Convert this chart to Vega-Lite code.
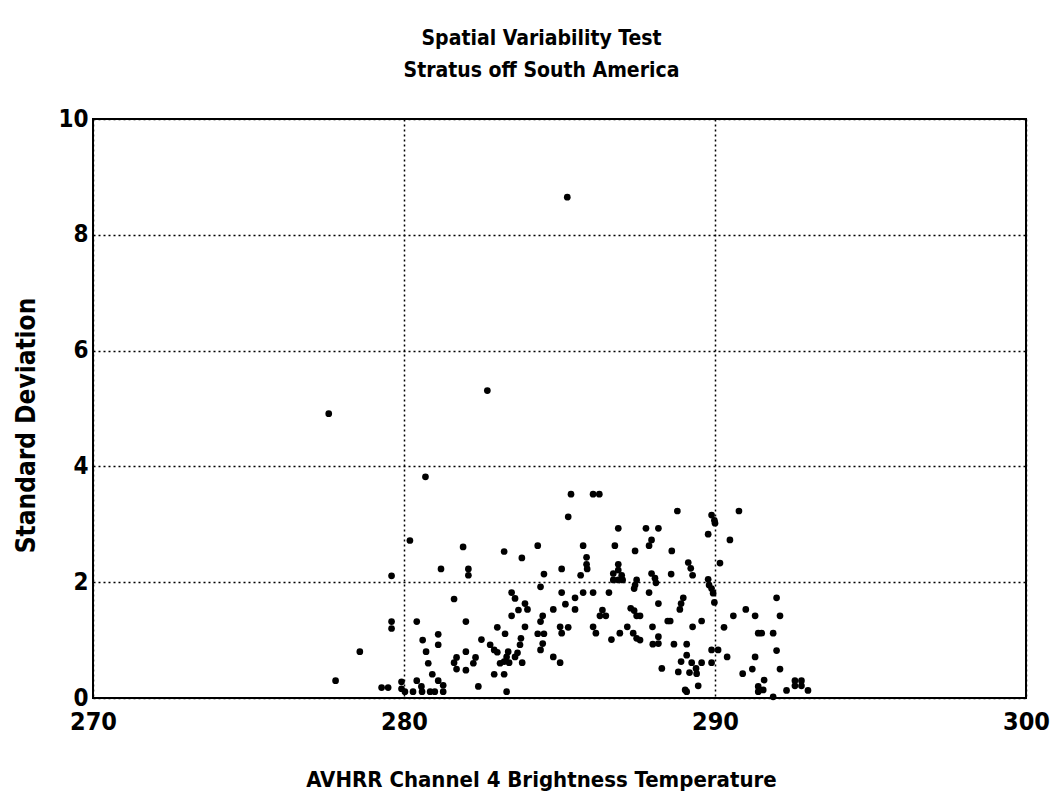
{
"$schema": "https://vega.github.io/schema/vega-lite/v6.json",
"autosize": "none",
"width": 933,
"height": 579,
"padding": {"left": 93, "top": 119, "right": 26, "bottom": 101},
"background": "white",
"title": {"text": ["Spatial Variability Test", "Stratus off South America"], "anchor": "middle", "dx": -18, "offset": 26, "font": "DejaVu Sans Condensed, Liberation Sans", "fontWeight": "bold", "fontSize": 21, "lineHeight": 32, "color": "black"},
"config": {"view": {"stroke": "black", "strokeWidth": 2}},
"data": {"values": [
{"temp":277.58,"sd":4.91},{"temp":282.68,"sd":5.31},{"temp":285.25,"sd":8.65},{"temp":280.69,"sd":3.82},
{"temp":280.19,"sd":2.72},{"temp":281.19,"sd":2.23},{"temp":279.6,"sd":2.11},{"temp":279.6,"sd":1.32},{"temp":279.6,"sd":1.2},{"temp":280.41,"sd":1.32},{"temp":281.1,"sd":1.1},{"temp":280.6,"sd":1.0},{"temp":281.1,"sd":0.92},{"temp":278.58,"sd":0.8},{"temp":280.71,"sd":0.8},{"temp":280.78,"sd":0.6},{"temp":280.91,"sd":0.41},{"temp":281.1,"sd":0.3},{"temp":280.41,"sd":0.3},{"temp":277.8,"sd":0.3},{"temp":279.28,"sd":0.18},{"temp":279.49,"sd":0.18},{"temp":279.92,"sd":0.28},{"temp":279.92,"sd":0.16},{"temp":280.03,"sd":0.11},{"temp":280.29,"sd":0.11},{"temp":280.58,"sd":0.11},{"temp":280.84,"sd":0.11},{"temp":280.56,"sd":0.2},{"temp":280.99,"sd":0.11},{"temp":281.26,"sd":0.11},{"temp":281.26,"sd":0.22},
{"temp":285.37,"sd":3.52},{"temp":285.28,"sd":3.13},{"temp":281.9,"sd":2.61},{"temp":283.22,"sd":2.53},{"temp":284.3,"sd":2.63},{"temp":283.79,"sd":2.42},{"temp":282.07,"sd":2.23},{"temp":282.07,"sd":2.12},{"temp":285.07,"sd":2.23},{"temp":284.5,"sd":2.14},{"temp":284.39,"sd":1.92},{"temp":281.61,"sd":1.71},{"temp":283.46,"sd":1.82},{"temp":283.57,"sd":1.72},{"temp":285.07,"sd":1.82},{"temp":283.89,"sd":1.63},{"temp":283.97,"sd":1.53},{"temp":283.68,"sd":1.52},{"temp":283.46,"sd":1.42},{"temp":285.19,"sd":1.62},{"temp":284.8,"sd":1.53},{"temp":284.46,"sd":1.42},{"temp":284.39,"sd":1.32},{"temp":281.99,"sd":1.32},{"temp":283.89,"sd":1.23},{"temp":283.0,"sd":1.22},{"temp":285.02,"sd":1.23},{"temp":285.07,"sd":1.12},{"temp":285.28,"sd":1.22},{"temp":283.25,"sd":1.11},{"temp":284.3,"sd":1.11},{"temp":284.5,"sd":1.11},{"temp":283.76,"sd":1.03},{"temp":283.73,"sd":0.92},{"temp":282.49,"sd":1.01},{"temp":284.46,"sd":0.94},{"temp":284.39,"sd":0.83},{"temp":282.77,"sd":0.92},{"temp":282.9,"sd":0.83},{"temp":283.0,"sd":0.79},{"temp":283.65,"sd":0.78},{"temp":283.57,"sd":0.71},{"temp":283.35,"sd":0.8},{"temp":283.3,"sd":0.71},{"temp":283.22,"sd":0.63},{"temp":283.09,"sd":0.6},{"temp":281.99,"sd":0.8},{"temp":281.69,"sd":0.7},{"temp":281.61,"sd":0.61},{"temp":281.69,"sd":0.5},{"temp":282.3,"sd":0.7},{"temp":282.23,"sd":0.6},{"temp":281.99,"sd":0.48},{"temp":284.8,"sd":0.71},{"temp":285.02,"sd":0.61},{"temp":283.8,"sd":0.61},{"temp":283.38,"sd":0.61},{"temp":282.9,"sd":0.41},{"temp":283.22,"sd":0.41},{"temp":282.39,"sd":0.2},{"temp":283.3,"sd":0.11},
{"temp":286.08,"sd":3.52},{"temp":286.28,"sd":3.52},{"temp":288.79,"sd":3.23},{"temp":286.89,"sd":2.93},{"temp":287.78,"sd":2.93},{"temp":288.18,"sd":2.93},{"temp":287.96,"sd":2.73},{"temp":287.88,"sd":2.63},{"temp":285.76,"sd":2.63},{"temp":286.78,"sd":2.63},{"temp":287.43,"sd":2.54},{"temp":288.61,"sd":2.54},{"temp":285.87,"sd":2.43},{"temp":285.87,"sd":2.31},{"temp":285.89,"sd":2.23},{"temp":289.14,"sd":2.34},{"temp":289.22,"sd":2.24},{"temp":289.28,"sd":2.12},{"temp":285.68,"sd":2.12},{"temp":286.89,"sd":2.31},{"temp":286.73,"sd":2.15},{"temp":286.89,"sd":2.21},{"temp":287.0,"sd":2.12},{"temp":286.89,"sd":2.04},{"temp":286.73,"sd":2.04},{"temp":287.03,"sd":2.04},{"temp":287.96,"sd":2.15},{"temp":288.07,"sd":2.07},{"temp":288.1,"sd":1.99},{"temp":288.59,"sd":2.14},{"temp":287.48,"sd":2.04},{"temp":287.43,"sd":1.95},{"temp":287.4,"sd":1.89},{"temp":285.76,"sd":1.82},{"temp":286.08,"sd":1.82},{"temp":286.59,"sd":1.82},{"temp":287.88,"sd":1.82},{"temp":285.5,"sd":1.73},{"temp":285.5,"sd":1.53},{"temp":288.98,"sd":1.73},{"temp":288.91,"sd":1.63},{"temp":288.87,"sd":1.53},{"temp":288.18,"sd":1.63},{"temp":286.38,"sd":1.52},{"temp":286.3,"sd":1.42},{"temp":286.49,"sd":1.42},{"temp":287.29,"sd":1.55},{"temp":287.4,"sd":1.51},{"temp":287.48,"sd":1.42},{"temp":287.59,"sd":1.42},{"temp":286.08,"sd":1.23},{"temp":286.17,"sd":1.12},{"temp":288.48,"sd":1.33},{"temp":288.56,"sd":1.33},{"temp":287.18,"sd":1.23},{"temp":286.94,"sd":1.12},{"temp":286.67,"sd":1.01},{"temp":287.37,"sd":1.12},{"temp":287.48,"sd":1.03},{"temp":287.59,"sd":1.0},{"temp":287.99,"sd":1.23},{"temp":288.18,"sd":1.06},{"temp":288.18,"sd":0.94},{"temp":288.0,"sd":0.93},{"temp":288.68,"sd":0.93},{"temp":289.09,"sd":0.93},{"temp":289.28,"sd":1.23},{"temp":289.09,"sd":0.74},{"temp":288.91,"sd":0.63},{"temp":288.82,"sd":0.45},{"temp":289.25,"sd":0.61},{"temp":289.39,"sd":0.51},{"temp":289.18,"sd":0.44},{"temp":288.29,"sd":0.51},{"temp":289.04,"sd":0.14},{"temp":289.09,"sd":0.11},
{"temp":289.89,"sd":3.16},{"temp":289.98,"sd":3.07},{"temp":290.0,"sd":3.02},{"temp":290.77,"sd":3.23},{"temp":289.78,"sd":2.83},{"temp":290.48,"sd":2.73},{"temp":290.16,"sd":2.33},{"temp":289.78,"sd":2.05},{"temp":289.81,"sd":1.95},{"temp":289.89,"sd":1.89},{"temp":289.94,"sd":1.81},{"temp":289.98,"sd":1.65},{"temp":291.98,"sd":1.73},{"temp":290.99,"sd":1.53},{"temp":290.59,"sd":1.42},{"temp":291.29,"sd":1.42},{"temp":292.09,"sd":1.42},{"temp":289.57,"sd":1.33},{"temp":290.29,"sd":1.22},{"temp":291.39,"sd":1.12},{"temp":291.5,"sd":1.12},{"temp":291.87,"sd":1.12},{"temp":289.89,"sd":0.83},{"temp":290.1,"sd":0.83},{"temp":291.98,"sd":0.82},{"temp":290.39,"sd":0.71},{"temp":291.29,"sd":0.71},{"temp":289.89,"sd":0.61},{"temp":289.57,"sd":0.61},{"temp":289.41,"sd":0.42},{"temp":292.09,"sd":0.5},{"temp":291.2,"sd":0.5},{"temp":290.89,"sd":0.42},{"temp":289.46,"sd":0.21},{"temp":291.58,"sd":0.31},{"temp":291.39,"sd":0.2},{"temp":291.39,"sd":0.11},{"temp":291.55,"sd":0.14},{"temp":291.87,"sd":0.02},{"temp":292.3,"sd":0.13},{"temp":292.57,"sd":0.3},{"temp":292.78,"sd":0.3},{"temp":292.57,"sd":0.21},{"temp":292.78,"sd":0.21},{"temp":292.99,"sd":0.13}
]},
"mark": {"type": "point", "filled": true, "shape": "circle", "size": 45, "color": "black", "opacity": 1},
"encoding": {
"x": {"field": "temp", "type": "quantitative", "scale": {"domain": [270, 300], "nice": false, "zero": false},
"axis": {"values": [270, 280, 290, 300], "title": "AVHRR Channel 4 Brightness Temperature", "titleX": 448, "domain": false, "ticks": false, "grid": true, "gridColor": "black", "gridDash": [2, 3], "gridWidth": 1.5, "labelFont": "DejaVu Sans Condensed, Liberation Sans", "labelFontWeight": "bold", "labelFontSize": 25, "labelColor": "black", "labelPadding": 11, "labelFlush": false, "titleFont": "DejaVu Sans Condensed, Liberation Sans", "titleFontWeight": "bold", "titleFontSize": 22, "titleColor": "black", "titlePadding": 35, "labelOverlap": false}},
"y": {"field": "sd", "type": "quantitative", "scale": {"domain": [0, 10], "nice": false},
"axis": {"values": [0, 2, 4, 6, 8, 10], "title": "Standard Deviation", "titleY": 306, "domain": false, "ticks": false, "grid": true, "gridColor": "black", "gridDash": [2, 3], "gridWidth": 1.5, "labelFont": "DejaVu Sans Condensed, Liberation Sans", "labelFontWeight": "bold", "labelFontSize": 24, "labelColor": "black", "labelPadding": 5, "labelFlush": false, "titleFont": "DejaVu Sans Condensed, Liberation Sans", "titleFontWeight": "bold", "titleFontSize": 26, "titleColor": "black", "titlePadding": 18, "labelOverlap": false}}
}
}
